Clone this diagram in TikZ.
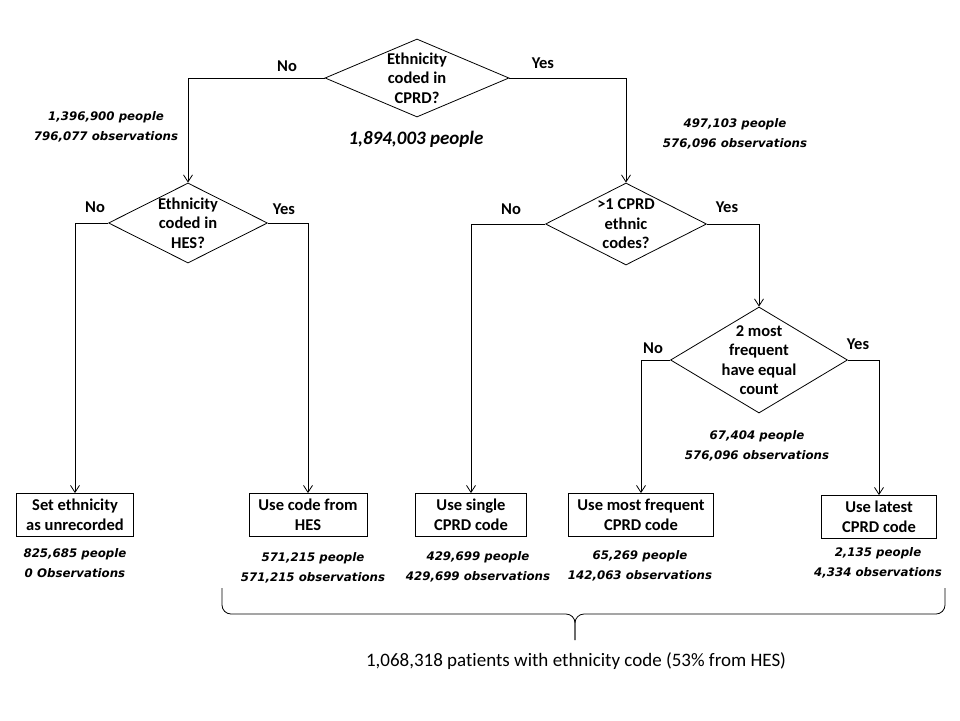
\documentclass[tikz,border=0pt]{standalone}
\usepackage{fontspec}
\setmainfont{Carlito}[Ligatures=NoCommon]
\newfontfamily\countfamily{DejaVu Sans}
\usetikzlibrary{shapes.geometric,arrows.meta}
\newcommand{\labelfont}{\fontsize{16.5}{19.5}\selectfont\bfseries}
\newcommand{\countfont}{\countfamily\fontsize{11.8}{19.5}\selectfont\bfseries\itshape}
\tikzset{
  decision/.style={diamond,draw,inner sep=-20pt,align=center,font=\labelfont},
  action/.style={rectangle,draw,minimum height=43pt,inner sep=2pt,align=center,font=\labelfont},
  count/.style={align=center,font=\countfont},
  answer/.style={font=\labelfont},
}
\begin{document}
\begin{tikzpicture}[x=1pt,y=-1pt,line width=0.8pt,>={Straight Barb[length=7pt,width=9pt]}]
				\useasboundingbox (0,0) rectangle (960,720);
				% decisions
				\node[decision,minimum width=184pt,minimum height=78pt] (cprd) at (417,78) {Ethnicity\\coded in\\CPRD?};
				\node[decision,minimum width=159pt,minimum height=80pt] (hes) at (188,223) {Ethnicity\\coded in\\HES?};
				\node[decision,minimum width=161pt,minimum height=82pt] (multi) at (626,224) {>1 CPRD\\ethnic\\codes?};
				\node[decision,minimum width=177pt,minimum height=106pt] (equal) at (759,360) {2 most\\frequent\\have equal\\count};
				% outcomes
				\node[action,minimum width=117pt] (unrec) at (75,515) {Set ethnicity\\as unrecorded};
				\node[action,minimum width=118pt] (usehes) at (308,515) {Use code from\\HES};
				\node[action,minimum width=111pt] (single) at (471,515) {Use single\\CPRD code};
				\node[action,minimum width=145pt] (freq) at (641,515) {Use most frequent\\CPRD code};
				\node[action,minimum width=115pt] (latest) at (879,517) {Use latest\\CPRD code};
				% connectors
				\draw[->] (cprd.west) -| (hes.north);
				\draw[->] (cprd.east) -| (multi.north);
				\draw[->] (hes.west) -| (unrec.north);
				\draw[->] (hes.east) -| (usehes.north);
				\draw[->] (multi.west) -| (single.north);
				\draw[->] (multi.east) -| (equal.north);
				\draw[->] (equal.west) -| (freq.north);
				\draw[->] (equal.east) -| (latest.north);
				% answers
				\node[answer] (no1) at (287,66) {No};
				\node[answer] (yes1) at (543,63) {Yes};
				\node[answer] (no2) at (95,207) {No};
				\node[answer] (yes2) at (284,209) {Yes};
				\node[answer] (no3) at (511,209) {No};
				\node[answer] (yes3) at (727,207) {Yes};
				\node[answer] (no4) at (653,348) {No};
				\node[answer] (yes4) at (858,344) {Yes};
				% counts
				\node[font=\fontsize{19}{22}\selectfont\bfseries\itshape] (total) at (416,139) {1,894,003 people};
				\node[count] (cnocprd) at (106,127) {1,396,900 people\\796,077 observations};
				\node[count] (cyescprd) at (735,134) {497,103 people\\576,096 observations};
				\node[count] (cmulti) at (757,446) {67,404 people\\576,096 observations};
				\node[count] (cunrec) at (75,563) {825,685 people\\0 Observations};
				\node[count] (cusehes) at (313,568) {571,215 people\\571,215 observations};
				\node[count] (csingle) at (478,567) {429,699 people\\429,699 observations};
				\node[count] (cfreq) at (640,566) {65,269 people\\142,063 observations};
				\node[count] (clatest) at (878,563) {2,135 people\\4,334 observations};
				% brace
				\coordinate (bl) at (222,588);
				\coordinate (br) at (945,588);
				\coordinate (btip) at (575,640);
				\draw[rounded corners=9pt] (bl) |- (575,614) -- (btip);
				\draw[rounded corners=9pt] (br) |- (575,614) -- (btip);
				\node[font=\fontsize{19}{22}\selectfont] (summary) at (576,661) {1,068,318 patients with ethnicity code (53\% from HES)};
			\end{tikzpicture}
\end{document}
